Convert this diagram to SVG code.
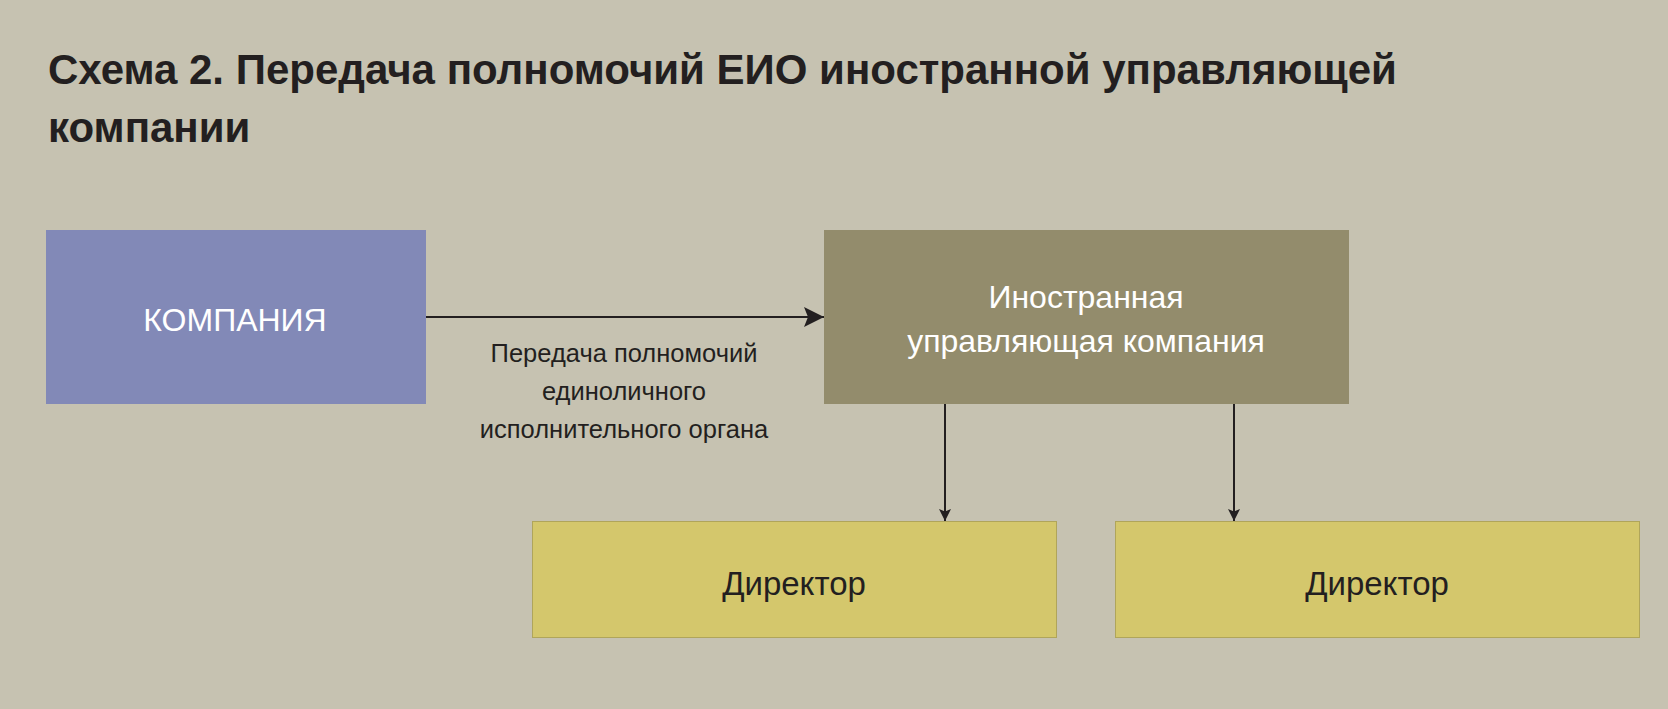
<svg xmlns="http://www.w3.org/2000/svg" width="1668" height="709" viewBox="0 0 1668 709">
<defs>
<style>
text{font-family:"Liberation Sans","Noto Sans",sans-serif;}
.t{font-size:42px;font-weight:bold;fill:#231f20}
.w{font-size:32px;fill:#ffffff;text-anchor:middle}
.d{font-size:33px;fill:#231f20;text-anchor:middle}
.l{font-size:25.5px;fill:#231f20;text-anchor:middle}
.c{stroke:#231f20;stroke-width:2;fill:none}
</style>
<marker id="ah" viewBox="0 0 10 10" refX="10" refY="5" markerWidth="26" markerHeight="12" markerUnits="userSpaceOnUse" orient="auto"><path d="M0,0L10,5L0,10L2,5z" fill="#231f20"/></marker>
<marker id="ah2" viewBox="0 0 10 10" refX="10" refY="5" markerWidth="26" markerHeight="20" markerUnits="userSpaceOnUse" orient="auto"><path d="M0,0L10,5L0,10L2,5z" fill="#231f20"/></marker>
</defs>
<rect width="1668" height="709" fill="#c6c2b1"/>
<text class="t" x="48" y="84">Схема 2. Передача полномочий ЕИО иностранной управляющей</text>
<text class="t" x="48" y="142">компании</text>
<g id="company"><rect x="46" y="230" width="380" height="174" fill="#8289b7"/><text class="w" x="235" y="331">КОМПАНИЯ</text></g>
<g id="foreign"><rect x="824" y="230" width="525" height="174" fill="#938c6c"/><text class="w" x="1086" y="308">Иностранная</text><text class="w" x="1086" y="352">управляющая компания</text></g>
<g id="director1"><rect x="532.5" y="521.5" width="524" height="116" fill="#d4c76c" stroke="#b0a55a"/><text class="d" x="794" y="595">Директор</text></g>
<g id="director2"><rect x="1115.5" y="521.5" width="524" height="116" fill="#d4c76c" stroke="#b0a55a"/><text class="d" x="1377" y="595">Директор</text></g>
<g id="connectors">
<line class="c" x1="426" y1="317" x2="824" y2="317" marker-end="url(#ah2)"/>
<line class="c" x1="945" y1="404" x2="945" y2="521" marker-end="url(#ah)" stroke-width="1.5"/>
<line class="c" x1="1234" y1="404" x2="1234" y2="521" marker-end="url(#ah)" stroke-width="1.5"/>
<text class="l" x="624" y="362">Передача полномочий</text>
<text class="l" x="624" y="400">единоличного</text>
<text class="l" x="624" y="438">исполнительного органа</text>
</g>
</svg>
